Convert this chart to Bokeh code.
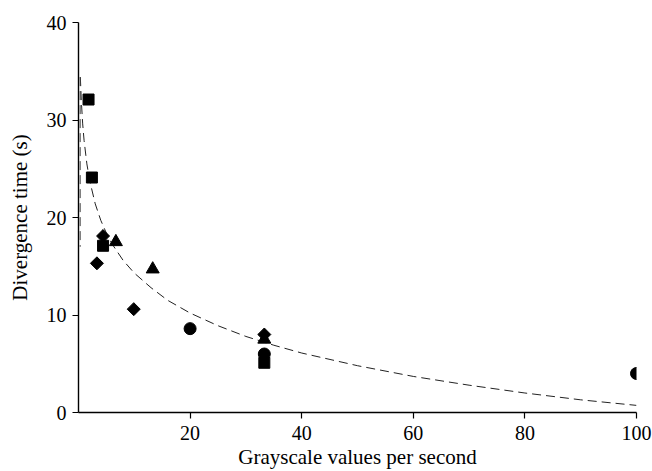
import numpy as np
from bokeh.plotting import figure
from bokeh.models import Range1d, FixedTicker
from bokeh.embed import file_html
from bokeh.resources import INLINE

# Data
sq_x = [1.8, 2.4, 4.4, 33.3]
sq_y = [32.1, 24.1, 17.1, 5.1]

ci_x = [20.0, 33.3, 100.0]
ci_y = [8.6, 6.0, 4.0]

di_x = [3.3, 4.4, 9.9, 33.3]
di_y = [15.3, 18.1, 10.6, 8.0]

tr_x = [6.7, 13.3, 33.3]
tr_y = [17.5, 14.7, 7.5]

# Dashed trend curve
fit_x = [0.33, 0.5, 0.75, 1, 1.5, 2, 3, 4, 5, 6, 8, 10, 13, 16, 20, 25, 30, 35, 40, 50, 60, 70, 80, 90, 100]
fit_y = [34.4, 32.0, 29.6, 27.9, 25.5, 23.8, 21.4, 19.7, 18.4, 17.3, 15.6, 14.3, 12.8, 11.5, 10.2, 8.9, 7.8, 6.9, 6.1, 4.8, 3.7, 2.8, 2.0, 1.3, 0.73]
vert_x = [0.3, 0.3]
vert_y = [34.4, 17.0]

x_ticks = [20, 40, 60, 80, 100]
y_ticks = [0, 10, 20, 30, 40]

FONT = "Liberation Serif"

p = figure(width=652, height=471, output_backend="svg", toolbar_location=None,
           x_range=Range1d(0, 100), y_range=Range1d(0, 40),
           min_border_left=78, min_border_right=16, min_border_top=22, min_border_bottom=59)
p.outline_line_color = None
p.xgrid.visible = False
p.ygrid.visible = False
p.background_fill_color = "white"
p.border_fill_color = "white"

p.line(fit_x, fit_y, line_color="#222222", line_width=1, line_dash="9 5")
p.line(vert_x, vert_y, line_color="#444444", line_width=1, line_dash="9 5")

p.scatter(sq_x, sq_y, marker="square", size=11, fill_color="black", line_color="black")
p.scatter(ci_x, ci_y, marker="circle", size=12, fill_color="black", line_color="black")
p.scatter(di_x, di_y, marker="square", size=9.2, angle=np.pi / 4, fill_color="black", line_color="black")
p.scatter(tr_x, tr_y, marker="triangle", size=13, fill_color="black", line_color="black")

for ax in (p.xaxis[0], p.yaxis[0]):
    ax.axis_line_color = "black"
    ax.axis_line_width = 1.4
    ax.major_tick_line_color = "black"
    ax.major_tick_line_width = 1.2
    ax.major_tick_out = 6
    ax.major_tick_in = 0
    ax.minor_tick_line_color = None
    ax.major_label_text_font = FONT
    ax.major_label_text_font_size = "20px"
    ax.major_label_text_color = "black"
    ax.axis_label_text_font = FONT
    ax.axis_label_text_font_size = "21px"
    ax.axis_label_text_font_style = "normal"
    ax.axis_label_text_color = "black"

p.xaxis.ticker = FixedTicker(ticks=x_ticks)
p.yaxis.ticker = FixedTicker(ticks=y_ticks)
p.xaxis.axis_label = "Grayscale values per second"
p.yaxis.axis_label = "Divergence time (s)"
p.xaxis.major_label_standoff = 7
p.yaxis.major_label_standoff = 6
p.xaxis.axis_label_standoff = 2
p.yaxis.axis_label_standoff = 12

open("out.html", "w").write(file_html(p, INLINE))
